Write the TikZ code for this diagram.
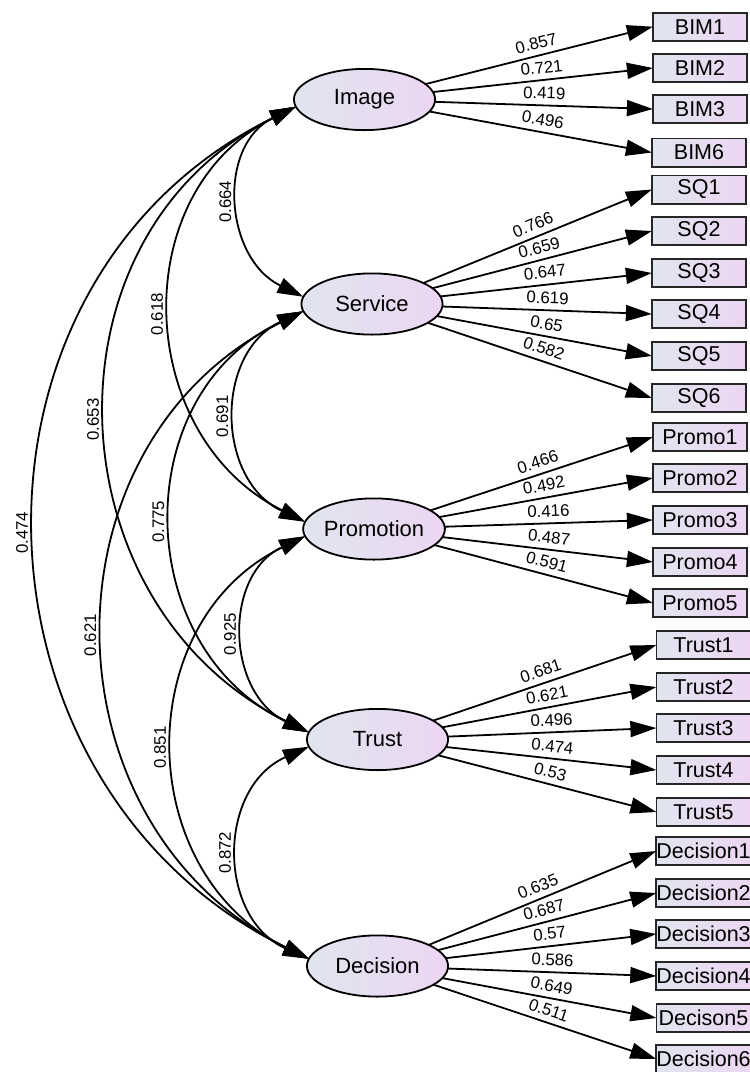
\documentclass[tikz,border=0pt]{standalone}
\usepackage{fontspec}
\setmainfont{Liberation Sans}
\usetikzlibrary{arrows.meta,shapes.geometric}
\definecolor{lft}{RGB}{224,229,239}
\definecolor{rgt}{RGB}{236,214,242}
\begin{document}
\begin{tikzpicture}[x=1pt,y=-1pt,
  latent/.style={ellipse, draw=black, line width=1.8pt, left color=lft, right color=rgt,
    minimum width=141.2pt, minimum height=61.2pt, inner sep=0pt, outer sep=0pt,
    font=\fontsize{22}{24}\selectfont},
  obs/.style={rectangle, draw=black!85, line width=1.8pt, left color=lft, right color=rgt,
    minimum width=94.2pt, minimum height=28.2pt, inner sep=0pt, outer sep=0pt,
    font=\fontsize{21.5}{24}\selectfont},
  tipA/.tip={Triangle[length=26pt,width=16pt]},
  load/.style={line width=1.8pt, -tipA},
  cov/.style={line width=1.8pt, tipA-tipA},
  ll/.style={font=\fontsize{16.8}{18}\selectfont, sloped, above, inner sep=5.5pt, pos=0.5},
  cl/.style={font=\fontsize{16.8}{18}\selectfont, rotate=90, anchor=south, inner sep=8pt, pos=0.5},
]
\useasboundingbox (0,0) rectangle (750,1072);

% latent variables
\node[latent] (image) at (364.5,99.5) {Image};
\node[latent] (service) at (372,304) {Service};
\node[latent] (promotion) at (374,529) {Promotion};
\node[latent] (trust) at (377.5,739.5) {Trust};
\node[latent] (decision) at (377.5,966) {Decision};

% observed variables
\node[obs] (bim1) at (700,26.7) {BIM1};
\node[obs] (bim2) at (700,68) {BIM2};
\node[obs] (bim3) at (700,109) {BIM3};
\node[obs] (bim6) at (699,152.5) {BIM6};
\node[obs] (sq1) at (699,189.5) {SQ1};
\node[obs] (sq2) at (699,231) {SQ2};
\node[obs] (sq3) at (699,273) {SQ3};
\node[obs] (sq4) at (699,314) {SQ4};
\node[obs] (sq5) at (699,356) {SQ5};
\node[obs] (sq6) at (699,398) {SQ6};
\node[obs] (p1) at (700,437) {Promo1};
\node[obs] (p2) at (700,478) {Promo2};
\node[obs] (p3) at (700,520) {Promo3};
\node[obs] (p4) at (700,562) {Promo4};
\node[obs] (p5) at (700,603) {Promo5};
\node[obs] (t1) at (703.5,645) {Trust1};
\node[obs] (t2) at (703.5,687) {Trust2};
\node[obs] (t3) at (703.5,728) {Trust3};
\node[obs] (t4) at (703.5,770) {Trust4};
\node[obs] (t5) at (703.5,812) {Trust5};
\node[obs] (d1) at (703.5,851) {Decision1};
\node[obs] (d2) at (703.5,893) {Decision2};
\node[obs] (d3) at (703.5,934) {Decision3};
\node[obs] (d4) at (703.5,976) {Decision4};
\node[obs] (d5) at (703.5,1018) {Decison5};
\node[obs] (d6) at (703.5,1059) {Decision6};

% loadings
\draw[load] (image) -- (bim1.west) node[ll] {0.857};
\draw[load] (image) -- (bim2.west) node[ll] {0.721};
\draw[load] (image) -- (bim3.west) node[ll] {0.419};
\draw[load] (image) -- (bim6.west) node[ll] {0.496};
\draw[load] (service) -- (sq1.west) node[ll] {0.766};
\draw[load] (service) -- (sq2.west) node[ll] {0.659};
\draw[load] (service) -- (sq3.west) node[ll] {0.647};
\draw[load] (service) -- (sq4.west) node[ll] {0.619};
\draw[load] (service) -- (sq5.west) node[ll] {0.65};
\draw[load] (service) -- (sq6.west) node[ll] {0.582};
\draw[load] (promotion) -- (p1.west) node[ll] {0.466};
\draw[load] (promotion) -- (p2.west) node[ll] {0.492};
\draw[load] (promotion) -- (p3.west) node[ll] {0.416};
\draw[load] (promotion) -- (p4.west) node[ll] {0.487};
\draw[load] (promotion) -- (p5.west) node[ll] {0.591};
\draw[load] (trust) -- (t1.west) node[ll] {0.681};
\draw[load] (trust) -- (t2.west) node[ll] {0.621};
\draw[load] (trust) -- (t3.west) node[ll] {0.496};
\draw[load] (trust) -- (t4.west) node[ll] {0.474};
\draw[load] (trust) -- (t5.west) node[ll] {0.53};
\draw[load] (decision) -- (d1.west) node[ll] {0.635};
\draw[load] (decision) -- (d2.west) node[ll] {0.687};
\draw[load] (decision) -- (d3.west) node[ll] {0.57};
\draw[load] (decision) -- (d4.west) node[ll] {0.586};
\draw[load] (decision) -- (d5.west) node[ll] {0.649};
\draw[load] (decision) -- (d6.west) node[ll] {0.511};

% covariances
\draw[cov] (image.186) .. controls +(-79.3,38.6) and +(-79.3,-38.6) .. (service.174) node[cl] {0.664};
\draw[cov] (image.186) .. controls +(-171.3,85.4) and +(-171.3,-85.4) .. (promotion.174) node[cl] {0.618};
\draw[cov] (image.186) .. controls +(-259.3,127.7) and +(-259.3,-127.7) .. (trust.174) node[cl] {0.653};
\draw[cov] (image.186) .. controls +(-354,173.7) and +(-354,-173.7) .. (decision.174) node[cl] {0.474};
\draw[cov] (service.186) .. controls +(-89.3,41.7) and +(-89.3,-41.7) .. (promotion.174) node[cl] {0.691};
\draw[cov] (service.186) .. controls +(-177.3,84.2) and +(-177.3,-84.2) .. (trust.174) node[cl] {0.775};
\draw[cov] (service.186) .. controls +(-268,132.7) and +(-268,-132.7) .. (decision.174) node[cl] {0.621};
\draw[cov] (promotion.186) .. controls +(-82.7,39) and +(-82.7,-39) .. (trust.174) node[cl] {0.925};
\draw[cov] (promotion.186) .. controls +(-176,85.9) and +(-176,-85.9) .. (decision.174) node[cl] {0.851};
\draw[cov] (trust.186) .. controls +(-92,41) and +(-92,-41) .. (decision.174) node[cl] {0.872};
\end{tikzpicture}
\end{document}
